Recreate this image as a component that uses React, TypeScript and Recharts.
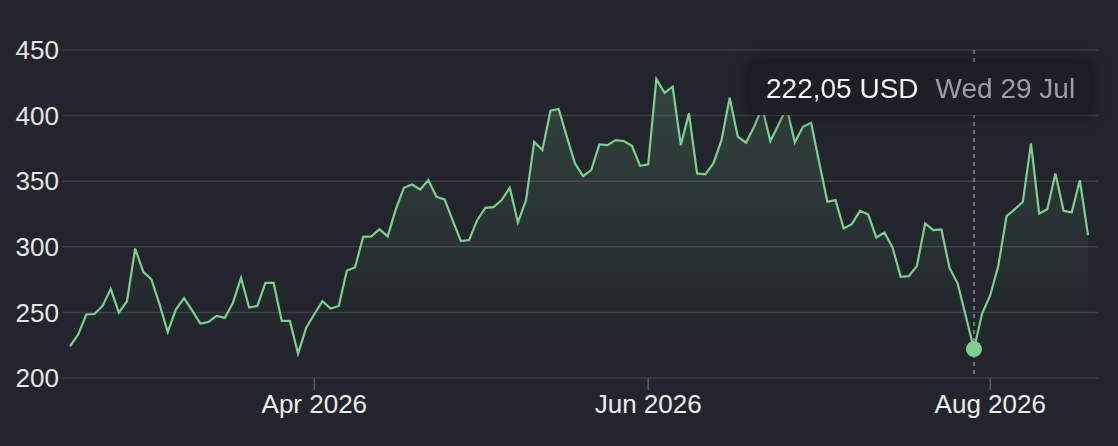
import { Area, AreaChart, CartesianGrid, Tooltip, XAxis, YAxis } from "recharts";

const prices = [
  224.2, 233.1, 248.4, 248.8, 254.9, 267.9, 249.9, 258.5, 298.7, 280.9,
  275.1, 256.0, 235.1, 252.2, 260.8, 251.5, 241.5, 242.7, 247.3, 245.8,
  257.2, 276.3, 253.7, 254.9, 272.5, 272.5, 243.5, 243.5, 218.6, 238.4,
  248.6, 258.5, 252.9, 254.9, 281.9, 284.2, 307.6, 307.9, 313.4, 307.9,
  328.5, 345.0, 347.5, 343.7, 350.8, 338.1, 336.1, 320.0, 304.3, 305.1,
  320.3, 329.7, 330.2, 335.6, 345.0, 318.6, 335.6, 380.0, 373.7, 403.7,
  405.0, 384.0, 363.6, 353.9, 358.5, 378.0, 377.5, 381.3, 380.6, 377.0,
  361.7, 362.8, 427.9, 417.4, 422.0, 377.5, 401.7, 355.9, 355.2, 363.6,
  381.3, 413.6, 383.9, 379.3, 391.5, 406.0, 380.6, 393.0, 406.0, 379.6,
  391.5, 394.5, 364.0, 334.3, 335.6, 314.0, 317.3, 327.4, 324.7, 307.1,
  310.9, 299.5, 277.1, 277.6, 285.5, 317.8, 312.7, 313.2, 283.9, 272.0,
  247.0, 222.05, 249.1, 263.1, 286.0, 323.4, 328.5, 334.3, 378.8, 325.4,
  328.7, 355.9, 327.4, 326.2, 350.8, 308.9,
];

const monthTicks = [30, 71, 113];
const monthLabels = ["Apr 2026", "Jun 2026", "Aug 2026"];
const yTicks = [200, 250, 300, 350, 400, 450];

const hoverIndex = 111;
const hoverDate = "Wed 29 Jul";

const data = prices.map((v, i) => ({ i, v }));

const GREEN = "#7ccf8e";
const FONT = "'Liberation Sans', Arial, Helvetica, sans-serif";

function Tip({ active, payload }: any) {
  if (!active || !payload || !payload.length) return null;
  const value = Number(payload[0].value).toFixed(2).replace(".", ",");
  return (
    <div
      style={{
        display: "flex",
        alignItems: "center",
        gap: 17,
        height: 53,
        padding: "0 16px",
        boxSizing: "border-box",
        background: "#1c1f25",
        borderRadius: 4,
        boxShadow: "0 0 18px rgba(0,0,0,0.4)",
        fontFamily: FONT,
        fontSize: 28,
        whiteSpace: "nowrap",
      }}
    >
      <span style={{ color: "#f2f2f2" }}>{value} USD</span>
      <span style={{ color: "#9b9ea4" }}>{hoverDate}</span>
    </div>
  );
}

export default function App() {
  return (
    <div
      style={{
        position: "fixed",
        left: 0,
        top: 0,
        width: 1118,
        height: 446,
        background: "#22252c",
      }}
    >
      <AreaChart
        width={1118}
        height={446}
        data={data}
        margin={{ top: 50, right: 20, left: 0, bottom: 0 }}
      >
        <defs>
          <linearGradient id="fillGreen" x1="0" y1="0" x2="0" y2="1">
            <stop offset="0%" stopColor={GREEN} stopOpacity={0.3} />
            <stop offset="45%" stopColor={GREEN} stopOpacity={0.15} />
            <stop offset="75%" stopColor={GREEN} stopOpacity={0.04} />
            <stop offset="100%" stopColor={GREEN} stopOpacity={0} />
          </linearGradient>
        </defs>
        <CartesianGrid vertical={false} stroke="#3b3f45" strokeWidth={1.5} />
        <XAxis
          dataKey="i"
          type="number"
          domain={[0, prices.length - 1]}
          ticks={monthTicks}
          interval={0}
          tickFormatter={(t: number) => monthLabels[monthTicks.indexOf(t)] ?? ""}
          padding={{ left: 8, right: 10 }}
          axisLine={false}
          tickLine={{ stroke: "#5a5e64", strokeWidth: 1.5 }}
          tickSize={12}
          tickMargin={5}
          height={68}
          tick={{ fill: "#ececec", fontSize: 26, fontFamily: FONT }}
        />
        <YAxis
          domain={[200, 450]}
          ticks={yTicks}
          interval={0}
          width={62}
          axisLine={false}
          tickLine={false}
          tickSize={0}
          tickMargin={3}
          tick={{ fill: "#e6e6e6", fontSize: 26, fontFamily: FONT }}
        />
        <Tooltip
          content={<Tip />}
          defaultIndex={hoverIndex}
          active
          position={{ x: 750, y: 62 }}
          isAnimationActive={false}
          wrapperStyle={{ outline: "none" }}
          cursor={{ stroke: "#8c8f95", strokeWidth: 1.5, strokeDasharray: "4 4" }}
        />
        <Area
          type="linear"
          dataKey="v"
          stroke={GREEN}
          strokeWidth={2.2}
          fill="url(#fillGreen)"
          dot={false}
          activeDot={{ r: 8, fill: GREEN, stroke: "none" }}
          isAnimationActive={false}
        />
      </AreaChart>
    </div>
  );
}
